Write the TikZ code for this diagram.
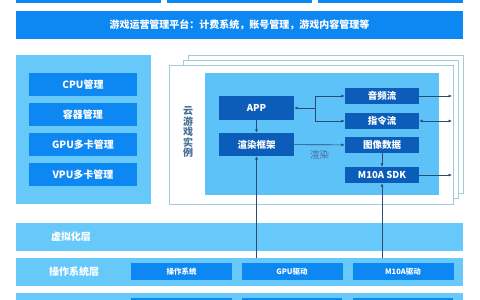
\documentclass[tikz,border=0pt]{standalone}
\usepackage{fontspec}
\setmainfont{Noto Sans CJK SC}
\usepackage{tikz}
\usetikzlibrary{arrows.meta}
\usepackage{xcolor}
\definecolor{barblue}{RGB}{13,135,242}
\definecolor{layerblue}{RGB}{102,201,250}
\definecolor{panelblue}{RGB}{92,194,247}
\definecolor{boxnavy}{RGB}{12,92,186}
\definecolor{framegray}{RGB}{165,204,214}
\definecolor{linknavy}{RGB}{43,74,117}
\definecolor{notegray}{RGB}{70,110,150}

\tikzset{
  navybox/.style={fill=boxnavy,text=white,inner sep=0pt,font=\bfseries\fontsize{9.5}{9.5}\selectfont},
  mgrbox/.style={fill=barblue,text=white,inner sep=0pt,minimum width=108pt,minimum height=23pt,font=\bfseries\fontsize{10}{10}\selectfont},
  drvbox/.style={fill=barblue,text=white,inner sep=0pt,minimum width=101pt,minimum height=17pt,font=\bfseries\fontsize{7.5}{7.5}\selectfont},
  layertag/.style={text=white,font=\bfseries\fontsize{10}{10}\selectfont},
  link/.style={draw=linknavy,line width=0.6pt,-{Latex[length=3.5pt,width=3pt]}},
}

\begin{document}
\begin{tikzpicture}[x=1pt,y=-1pt]
        \useasboundingbox (0,0) rectangle (480,300);
        \clip (0,0) rectangle (480,300);
        % top rows
        \fill[barblue] (16,-20) rectangle (161,3);
        \fill[barblue] (167,-20) rectangle (312,3);
        \fill[barblue] (318,-20) rectangle (463,3);
        \fill[barblue] (16,11) rectangle (463,39);
        \node[text=white,font=\bfseries\fontsize{10}{10}\selectfont] (platform) at (239.5,25) {游戏运营管理平台：计费系统，账号管理，游戏内容管理等};
        % resource management
        \fill[layerblue] (16,55) rectangle (151,204);
        \node[mgrbox] (cpu) at (83,84.5) {CPU管理};
        \node[mgrbox] (container) at (83,114.5) {容器管理};
        \node[mgrbox] (gpumgr) at (83,144.5) {GPU多卡管理};
        \node[mgrbox] (vpumgr) at (83,174.5) {VPU多卡管理};
        % cloud game instances
        \draw[framegray,fill=white,line width=0.7pt] (188,55) rectangle (463,193);
        \draw[framegray,fill=white,line width=0.7pt] (183,60) rectangle (458,198);
        \draw[framegray,fill=white,line width=0.7pt] (169,65) rectangle (453,204);
        \fill[panelblue] (205,73) rectangle (439,195);
        \node[align=center,text=notegray,font=\bfseries\fontsize{10}{10.5}\selectfont] (inst) at (188,132) {云\\游\\戏\\实\\例};
        \node[navybox,minimum width=75pt,minimum height=24pt] (app) at (256.5,108) {APP};
        \node[navybox,minimum width=75pt,minimum height=23pt] (render) at (256.5,144.5) {渲染框架};
        \node[navybox,minimum width=74pt,minimum height=16pt] (audio) at (382,96) {音频流};
        \node[navybox,minimum width=74pt,minimum height=16pt] (cmd) at (382,121) {指令流};
        \node[navybox,minimum width=74pt,minimum height=16pt] (image) at (382,145) {图像数据};
        \node[navybox,minimum width=74pt,minimum height=16pt] (sdk) at (382,175) {M10A SDK};
        \coordinate (split) at (315,108);
        \coordinate (audioout) at (452,96);
        \coordinate (cmdout) at (452,121);
        \coordinate (sdkout) at (452,175);
        \draw[link] (split) -- (app);
        \draw[link] (split) |- (audio);
        \draw[link] (split) |- (cmd);
        \draw[link] (app) -- (render);
        \draw[link] (render) -- (image) node[pos=0.5,below=2pt,text=notegray,font=\fontsize{9.5}{9.5}\selectfont] (rendertag) {渲染};
        \draw[link] (image) -- (sdk);
        \draw[link] (audio) -- (audioout);
        \draw[link,{Latex[length=3.5pt,width=3pt]}-{Latex[length=3.5pt,width=3pt]}] (cmd) -- (cmdout);
        \draw[link] (sdk) -- (sdkout);
        % layers
        \fill[layerblue] (16,223) rectangle (463,251);
        \node[layertag] (virt) at (71,237) {虚拟化层};
        \fill[layerblue] (16,258) rectangle (463,286);
        \node[layertag] (oslayer) at (74,272) {操作系统层};
        \node[drvbox] (os) at (181.5,271.5) {操作系统};
        \node[drvbox] (gpudrv) at (292,271.5) {GPU驱动};
        \node[drvbox] (m10adrv) at (403,271.5) {M10A驱动};
        \fill[layerblue] (16,293) rectangle (463,320);
        \fill[barblue] (131,298) rectangle (232,320);
        \fill[barblue] (242,298) rectangle (342,320);
        \fill[barblue] (353,298) rectangle (453,320);
        \coordinate (gpuup) at (256.5,258);
        \coordinate (sdkup) at (382,258);
        \draw[link] (gpuup) -- (render);
        \draw[link] (sdkup) -- (sdk);
      \end{tikzpicture}
\end{document}
